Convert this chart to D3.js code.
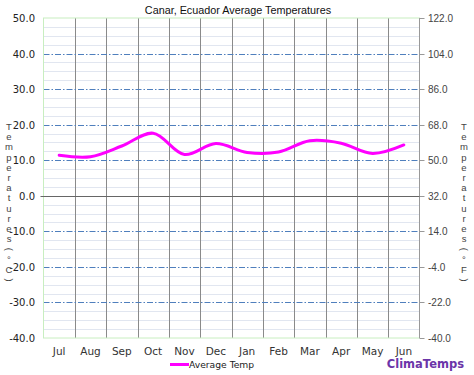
<!DOCTYPE html>
<html lang="en">
<head>
    <meta charset="UTF-8">
    <title>Canar, Ecuador Average Temperatures</title>
    <script src="https://d3js.org/d3.v7.min.js"></script>
    <style>
        body { margin: 0; background: #fff; }
        text { font-family: 'DejaVu Sans', Verdana, sans-serif; }
        .title { font-family: 'Liberation Sans', Arial, sans-serif; font-size: 10.8px; text-anchor: middle; fill: #111; }
        .left-lbl { font-size: 10px; fill: #222; text-anchor: end; }
        .right-lbl { font-family: 'Liberation Sans', Arial, sans-serif; font-size: 10px; fill: #444; }
        .month { font-size: 10.5px; fill: #333; text-anchor: middle; }
        .stack { font-family: 'Liberation Sans', Arial, sans-serif; font-size: 9.5px; fill: #444; text-anchor: middle; }
    </style>
</head>
<body>
    <svg id="chart" width="474" height="375"></svg>
    <script>
        const months = ["Jul", "Aug", "Sep", "Oct", "Nov", "Dec", "Jan", "Feb", "Mar", "Apr", "May", "Jun"];
        const avgTemp = [11.4, 11.0, 14.0, 17.6, 11.6, 14.7, 12.2, 12.3, 15.5, 14.8, 11.9, 14.3];
        const celsiusTicks = [50, 40, 30, 20, 10, 0, -10, -20, -30, -40];

        const plotLeft = 43.5, plotRight = 419.5, plotTop = 18, plotBottom = 338;
        const chart = d3.select("#chart");

        const x = d3.scaleBand().domain(months).range([plotLeft, plotRight]);
        const y = d3.scaleLinear().domain([-40, 50]).range([plotBottom, plotTop]);
        const toF = c => c * 1.8 + 32;
        const snap = v => Math.round(v) + 0.5;

        // minor grid every 2.5 degrees
        chart.append("g")
            .selectAll("line")
            .data(d3.range(-40, 50.01, 2.5).filter(v => v % 10 !== 0))
            .enter().append("line")
            .attr("x1", plotLeft).attr("x2", plotRight)
            .attr("y1", d => snap(y(d))).attr("y2", d => snap(y(d)))
            .attr("stroke", "#e1e6f0").attr("stroke-width", 1);

        // vertical month separators
        chart.append("g")
            .selectAll("line")
            .data(months.slice(1))
            .enter().append("line")
            .attr("x1", d => snap(x(d))).attr("x2", d => snap(x(d)))
            .attr("y1", plotTop).attr("y2", plotBottom)
            .attr("stroke", "#8a8a8a").attr("stroke-width", 1);

        // major dash-dot lines
        chart.append("g")
            .selectAll("line")
            .data(celsiusTicks.filter(v => v !== 0 && v !== 50 && v !== -40))
            .enter().append("line")
            .attr("x1", plotLeft).attr("x2", plotRight)
            .attr("y1", d => snap(y(d))).attr("y2", d => snap(y(d)))
            .attr("stroke", "#4f7fbd").attr("stroke-width", 1.2)
            .attr("stroke-dasharray", "6,2,1.5,2");

        // plot border
        chart.append("rect")
            .attr("x", plotLeft).attr("y", plotTop)
            .attr("width", plotRight - plotLeft).attr("height", plotBottom - plotTop)
            .attr("fill", "none").attr("stroke", "#c8eec0").attr("stroke-width", 1);
        chart.append("line")
            .attr("x1", plotRight).attr("x2", plotRight).attr("y1", plotTop).attr("y2", plotBottom)
            .attr("stroke", "#999").attr("stroke-width", 1);

        // zero line
        chart.append("line")
            .attr("x1", plotLeft - 3).attr("x2", plotRight + 4)
            .attr("y1", snap(y(0))).attr("y2", snap(y(0)))
            .attr("stroke", "#666").attr("stroke-width", 1);

        // right ticks
        chart.append("g")
            .selectAll("line")
            .data(celsiusTicks)
            .enter().append("line")
            .attr("x1", plotRight).attr("x2", plotRight + 5)
            .attr("y1", d => snap(y(d))).attr("y2", d => snap(y(d)))
            .attr("stroke", "#999");

        // left labels
        chart.append("g")
            .selectAll("text")
            .data(celsiusTicks)
            .enter().append("text")
            .attr("class", "left-lbl")
            .attr("x", 35).attr("y", d => y(d) + 4)
            .text(d => d.toFixed(1));

        // right labels
        chart.append("g")
            .selectAll("text")
            .data(celsiusTicks)
            .enter().append("text")
            .attr("class", "right-lbl")
            .attr("x", 428).attr("y", d => y(d) + 4)
            .text(d => toF(d).toFixed(1));

        // month labels
        chart.append("g")
            .selectAll("text")
            .data(months)
            .enter().append("text")
            .attr("class", "month")
            .attr("x", d => x(d) + x.bandwidth() / 2)
            .attr("y", 355)
            .text(d => d);

        // temperature curve
        const line = d3.line()
            .x((d, i) => x(months[i]) + x.bandwidth() / 2)
            .y(d => y(d))
            .curve(d3.curveCatmullRom.alpha(0.5));
        chart.append("path")
            .datum(avgTemp)
            .attr("d", line)
            .attr("fill", "none")
            .attr("stroke", "#ff00ff")
            .attr("stroke-width", 3)
            .attr("stroke-linecap", "round");

        // title
        chart.append("text").attr("class", "title")
            .attr("x", 238).attr("y", 14)
            .text("Canar, Ecuador Average Temperatures");

        // stacked axis titles
        function stackText(chars, cx, y0) {
            const g = chart.append("g");
            chars.forEach((c, i) => {
                const ty = y0 + i * 10.2;
                const t = g.append("text").attr("class", "stack")
                    .attr("x", cx).attr("y", ty).text(c);
                if (c === "(" || c === ")") {
                    t.attr("transform", `rotate(90,${cx},${ty - 3})`);
                }
            });
        }
        stackText(["T", "e", "m", "p", "e", "r", "a", "t", "u", "r", "e", "s", "(", "°", "C", ")"], 9, 130);
        stackText(["T", "e", "m", "p", "e", "r", "a", "t", "u", "r", "e", "s", "(", "°", "F", ")"], 464, 130);

        // legend
        chart.append("line")
            .attr("x1", 170).attr("x2", 189).attr("y1", 364.5).attr("y2", 364.5)
            .attr("stroke", "#ff00ff").attr("stroke-width", 3);
        chart.append("text")
            .attr("x", 189).attr("y", 368)
            .style("font-size", "9.2px").style("fill", "#222")
            .text("Average Temp");

        chart.append("text")
            .attr("x", 464).attr("y", 368)
            .attr("text-anchor", "end")
            .style("font-size", "11.5px").style("font-weight", "bold").style("fill", "#6b35a8")
            .text("ClimaTemps");
    </script>
</body>
</html>
